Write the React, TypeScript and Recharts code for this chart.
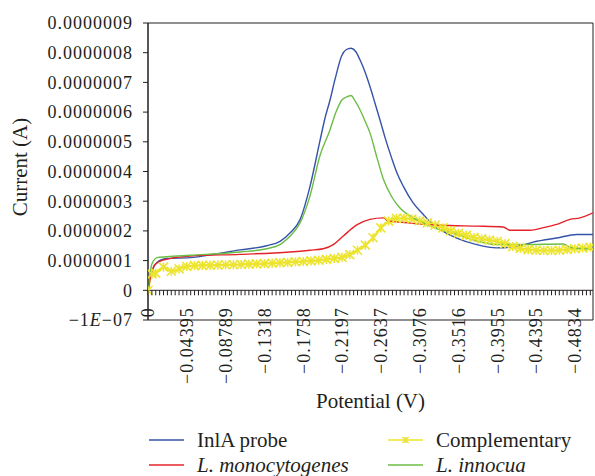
import React from "react"
import {
  LineChart, Line, XAxis, YAxis, ReferenceLine, ReferenceArea, Legend, Label,
} from "recharts"

// potential (V) and current (x 1e-7 A)
const probeV = [0, -0.0031, -0.0053, -0.0099, -0.0212, -0.0476, -0.0759, -0.1042, -0.1344, -0.1495, -0.1608, -0.1722, -0.1835, -0.1948, -0.2005, -0.2061, -0.2118, -0.2194, -0.2243, -0.2299, -0.2350, -0.2401, -0.2458, -0.2514, -0.2571, -0.2627, -0.2684, -0.2760, -0.2820, -0.2892, -0.3001, -0.3118, -0.3231, -0.3364, -0.3496, -0.3723, -0.3949, -0.4176, -0.4402, -0.4629, -0.4855, -0.5040]
const probeI = [0, 0.45, 0.7, 0.93, 1.07, 1.1, 1.22, 1.36, 1.5, 1.65, 1.93, 2.38, 3.5, 5.04, 5.8, 6.4, 7.1, 7.9, 8.1, 8.15, 8.05, 7.76, 7.35, 6.86, 6.3, 5.74, 5.15, 4.45, 3.95, 3.5, 2.95, 2.55, 2.2, 1.95, 1.76, 1.54, 1.43, 1.48, 1.65, 1.76, 1.88, 1.88]

const compV = [0, -0.0044, -0.0088, -0.0176, -0.0264, -0.0352, -0.0439, -0.0527, -0.0615, -0.0703, -0.0791, -0.0879, -0.0967, -0.1055, -0.1143, -0.1230, -0.1318, -0.1406, -0.1494, -0.1582, -0.1670, -0.1758, -0.1846, -0.1934, -0.2021, -0.2109, -0.2197, -0.2285, -0.2373, -0.2461, -0.2549, -0.2637, -0.2725, -0.2813, -0.2900, -0.2988, -0.3076, -0.3164, -0.3252, -0.3340, -0.3428, -0.3516, -0.3604, -0.3691, -0.3779, -0.3867, -0.3955, -0.4043, -0.4131, -0.4219, -0.4307, -0.4395, -0.4482, -0.4570, -0.4658, -0.4746, -0.4834, -0.4922, -0.5010]
const compI = [0, 0.55, 0.58, 0.78, 0.64, 0.72, 0.8, 0.83, 0.84, 0.84, 0.85, 0.86, 0.86, 0.87, 0.88, 0.89, 0.9, 0.91, 0.93, 0.94, 0.96, 0.97, 0.99, 1.01, 1.04, 1.07, 1.11, 1.2, 1.35, 1.52, 1.77, 2.1, 2.33, 2.42, 2.43, 2.4, 2.34, 2.27, 2.2, 2.1, 2.0, 1.92, 1.85, 1.78, 1.73, 1.69, 1.65, 1.57, 1.47, 1.41, 1.37, 1.35, 1.34, 1.34, 1.35, 1.37, 1.4, 1.42, 1.45]

const monoV = [0, -0.0031, -0.0079, -0.0173, -0.0476, -0.1042, -0.1608, -0.1835, -0.1985, -0.2099, -0.2212, -0.2364, -0.2514, -0.2665, -0.2722, -0.2854, -0.3118, -0.3420, -0.3723, -0.4024, -0.4100, -0.4327, -0.4477, -0.4629, -0.4780, -0.4893, -0.5040]
const monoI = [0, 0.48, 0.87, 1.02, 1.15, 1.21, 1.29, 1.35, 1.4, 1.54, 1.83, 2.2, 2.39, 2.44, 2.33, 2.3, 2.22, 2.18, 2.16, 2.13, 2.02, 2.02, 2.11, 2.22, 2.39, 2.44, 2.61]

const innoV = [0, -0.0042, -0.0060, -0.0099, -0.0212, -0.0476, -0.1042, -0.1344, -0.1495, -0.1608, -0.1722, -0.1835, -0.1948, -0.2061, -0.2129, -0.2194, -0.2243, -0.2299, -0.2350, -0.2401, -0.2458, -0.2514, -0.2590, -0.2665, -0.2760, -0.2854, -0.3043, -0.3194, -0.3496, -0.3723, -0.3949, -0.4251, -0.4703, -0.4780, -0.5040]
const innoI = [0, 0.87, 0.98, 1.1, 1.13, 1.18, 1.29, 1.4, 1.54, 1.82, 2.27, 3.18, 4.54, 5.4, 6.0, 6.4, 6.5, 6.56, 6.35, 6.08, 5.7, 5.3, 4.5, 3.75, 3.15, 2.77, 2.38, 2.16, 1.88, 1.66, 1.54, 1.54, 1.56, 1.45, 1.38]

const potentialLabels = ["0", "−0.04395", "−0.08789", "−0.1318", "−0.1758", "−0.2197", "−0.2637", "−0.3076", "−0.3516", "−0.3955", "−0.4395", "−0.4834"]
const currentTicks = [-1e-7, 0, 1e-7, 2e-7, 3e-7, 4e-7, 5e-7, 6e-7, 7e-7, 8e-7, 9e-7]
const currentLabels = ["−1E−07", "0", "0.0000001", "0.0000002", "0.0000003", "0.0000004", "0.0000005", "0.0000006", "0.0000007", "0.0000008", "0.0000009"]

const STEP = 0.0043945
const X_MIN = -0.504
const xTicks = Array.from({ length: 115 }, (_, k) => -k * STEP)

const W = 595
const H = 476
const PLOT_TOP = 23
const PLOT_BOTTOM = 320
const Y0 = PLOT_TOP + (PLOT_BOTTOM - PLOT_TOP) * 0.9

const INK = "#231f20"
const FONT = "'Liberation Serif', 'Times New Roman', serif"

const toPoints = (v: number[], i: number[]) => v.map((p, k) => ({ v: p, i: i[k] * 1e-7 }))

const series = [
  { name: "InlA probe", color: "#3553a8", data: toPoints(probeV, probeI), italic: false },
  { name: "Complementary", color: "#ece42e", data: toPoints(compV, compI), italic: false },
  { name: "L. monocytogenes", color: "#e42328", data: toPoints(monoV, monoI), italic: true },
  { name: "L. innocua", color: "#6cbd45", data: toPoints(innoV, innoI), italic: true },
]

function Star({ cx, cy, color, r = 4.5 }: { cx: number; cy: number; color: string; r?: number }) {
  return (
    <g stroke={color} strokeWidth={1.6}>
      <line x1={cx - r} y1={cy - r} x2={cx + r} y2={cy + r} />
      <line x1={cx - r} y1={cy + r} x2={cx + r} y2={cy - r} />
      <line x1={cx} y1={cy - r} x2={cx} y2={cy + r} />
    </g>
  )
}

function XTick(props: any) {
  const { x, index } = props
  const label = index % 10 === 0 ? potentialLabels[index / 10] : null
  return (
    <g>
      <line x1={x} x2={x} y1={Y0} y2={Y0 + 5} stroke={INK} />
      {label && (
        <text transform={`translate(${x},${Y0 + 17}) rotate(-90)`} textAnchor="end" dy="0.35em"
          fontFamily={FONT} fontSize={18} letterSpacing={1} fill={INK}>
          {label}
        </text>
      )}
    </g>
  )
}

function YTick(props: any) {
  const { x, y, index } = props
  const label = currentLabels[index]
  const parts = label.split("E")
  return (
    <text x={x} y={y} dy="0.35em" textAnchor="end" fontFamily={FONT} fontSize={18}
      letterSpacing={1} fill={INK}>
      {parts.length > 1 ? (
        <>
          {parts[0]}<tspan fontStyle="italic">E</tspan>{parts[1]}
        </>
      ) : label}
    </text>
  )
}

function LegendBox() {
  const top = H - 50
  const cols = [149, 388]
  const rows = [440 - top, 465 - top]
  return (
    <svg width={W} height={50} style={{ display: "block" }}>
      {series.map((s, k) => {
        const cx = cols[k % 2]
        const cy = rows[Math.floor(k / 2)]
        return (
          <g key={s.name}>
            <line x1={cx} x2={cx + 35} y1={cy} y2={cy} stroke={s.color} strokeWidth={1.5} />
            {s.name === "Complementary" && <Star cx={cx + 17.5} cy={cy} color={s.color} r={3} />}
            <text x={cx + 48} y={cy + 6.5} fontFamily={FONT} fontSize={21} fill={INK}
              fontStyle={s.italic ? "italic" : "normal"}>
              {s.name}
            </text>
          </g>
        )
      })}
    </svg>
  )
}

export default function App() {
  return (
    <div style={{ position: "absolute", left: 0, top: 0, background: "#fff" }}>
      <LineChart width={W} height={H} margin={{ top: PLOT_TOP, right: 2, left: 0, bottom: 0 }}>
        <XAxis dataKey="v" type="number" domain={[X_MIN, 0]} reversed allowDataOverflow
          ticks={xTicks} interval={0} tick={<XTick />} tickLine={false} axisLine={false} height={106}>
          <Label content={() => (
            <text x={370.5} y={408} textAnchor="middle" fontFamily={FONT} fontSize={21} fill={INK}>
              Potential (V)
            </text>
          )} />
        </XAxis>
        <YAxis type="number" domain={[-1e-7, 9e-7]} ticks={currentTicks} interval={0} width={148}
          tick={<YTick />} tickSize={5} tickMargin={10} tickLine={{ stroke: INK }}
          axisLine={{ stroke: INK }} allowDataOverflow>
          <Label content={() => (
            <text x={27} y={167} transform="rotate(-90, 27, 167)" textAnchor="middle"
              fontFamily={FONT} fontSize={21} fill={INK}>
              Current (A)
            </text>
          )} />
        </YAxis>
        <ReferenceArea x1={X_MIN} x2={0} y1={-1e-7} y2={9e-7} fill="none" fillOpacity={0}
          stroke={INK} strokeWidth={1} ifOverflow="visible" />
        <ReferenceLine y={0} stroke={INK} strokeWidth={1} />
        {series.map((s) => (
          <Line key={s.name} data={s.data} dataKey="i" name={s.name} type="monotone"
            stroke={s.color} strokeWidth={s.name === "Complementary" ? 2.5 : 1.4}
            dot={s.name === "Complementary"
              ? (p: any) => <Star key={p.index} cx={p.cx} cy={p.cy} color={s.color} />
              : false}
            activeDot={false} isAnimationActive={false} />
        ))}
        <Legend verticalAlign="bottom" height={50} content={() => <LegendBox />}
          wrapperStyle={{ left: 0, bottom: 0, width: W, height: 50 }} />
      </LineChart>
    </div>
  )
}
